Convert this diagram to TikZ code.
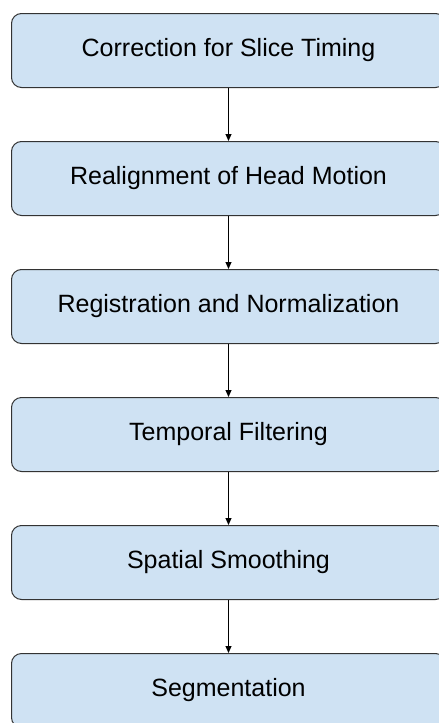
\documentclass[tikz,border=0pt]{standalone}
\usepackage{fontspec}
\setmainfont{Liberation Sans}
\usetikzlibrary{arrows.meta}
\definecolor{boxfill}{HTML}{CFE2F3}
\definecolor{boxline}{HTML}{333333}
\begin{document}
\begin{tikzpicture}[x=1pt,y=-1pt,
  stepbox/.style={draw=boxline, fill=boxfill, line width=1pt, rounded corners=10pt,
    minimum width=434pt, minimum height=74pt, inner sep=0pt, anchor=north west,
    font=\fontsize{25}{30}\selectfont},
  flow/.style={-{Triangle[length=7pt,width=6pt]}, line width=1pt, black}]
\useasboundingbox (0,0) rectangle (439,723);
\clip (0,0) rectangle (439,723);
\fill[white] (0,0) rectangle (439,723);
\node[stepbox] (b1) at (11,13) {Correction for Slice Timing};
\node[stepbox] (b2) at (11,141) {Realignment of Head Motion};
\node[stepbox] (b3) at (11,269) {Registration and Normalization};
\node[stepbox] (b4) at (11,397) {Temporal Filtering};
\node[stepbox] (b5) at (11,525) {Spatial Smoothing};
\node[stepbox] (b6) at (11,653) {Segmentation};
\draw[flow] (b1.south) -- (b2.north);
\draw[flow] (b2.south) -- (b3.north);
\draw[flow] (b3.south) -- (b4.north);
\draw[flow] (b4.south) -- (b5.north);
\draw[flow] (b5.south) -- (b6.north);
\end{tikzpicture}
\end{document}
